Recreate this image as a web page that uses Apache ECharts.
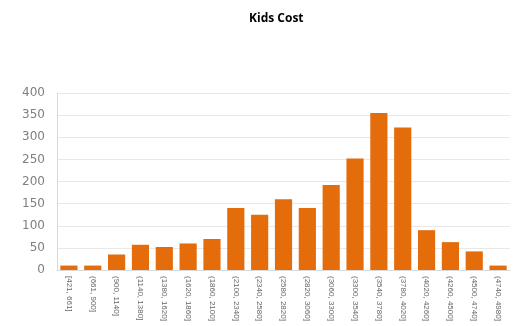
<!DOCTYPE html>
<html><head><meta charset="utf-8">
<script src="https://cdn.jsdelivr.net/npm/echarts@6/dist/echarts.min.js"></script>
<style>html,body{margin:0;padding:0;background:#fff}#c{width:513px;height:326px}</style>
</head><body><div id="c"></div>
<script>
const categories = ["[421, 661]","(661, 900]","(900, 1140]","(1140, 1380]","(1380, 1620]","(1620, 1860]","(1860, 2100]","(2100, 2340]","(2340, 2580]","(2580, 2820]","(2820, 3060]","(3060, 3300]","(3300, 3540]","(3540, 3780]","(3780, 4020]","(4020, 4260]","(4260, 4500]","(4500, 4740]","(4740, 4980]"];
const values = [10, 10, 35, 57, 52, 60, 70, 140, 125, 160, 140, 192, 252, 355, 322, 90, 63, 42, 10];
const yTicks = [0, 50, 100, 150, 200, 250, 300, 350, 400];
const chart = echarts.init(document.getElementById('c'));
chart.setOption({
  animation: false,
  title: { text: 'Kids Cost', left: 244, top: 8, textStyle: { fontFamily: 'Open Sans', fontSize: 12, fontWeight: 'bold', color: '#000' } },
  grid: { left: 57, right: 3, top: 93, bottom: 56 },
  xAxis: {
    type: 'category', data: categories,
    axisLine: { lineStyle: { color: '#d9d9d9' } },
    axisTick: { show: false },
    axisLabel: { rotate: -90, interval: 0, fontSize: 8, color: '#666', fontFamily: 'Liberation Sans', margin: 6 }
  },
  yAxis: {
    type: 'value', min: yTicks[0], max: yTicks[yTicks.length - 1], interval: 50,
    axisLine: { show: true, lineStyle: { color: '#d9d9d9' } },
    axisLabel: { fontSize: 12, color: '#7f7f7f', fontFamily: 'DejaVu Sans', margin: 12 },
    splitLine: { lineStyle: { color: '#e8e8e8' } }
  },
  series: [{
    type: 'bar', data: values, barCategoryGap: '28%',
    itemStyle: { color: '#E46C0A' }
  }]
});
</script></body></html>
